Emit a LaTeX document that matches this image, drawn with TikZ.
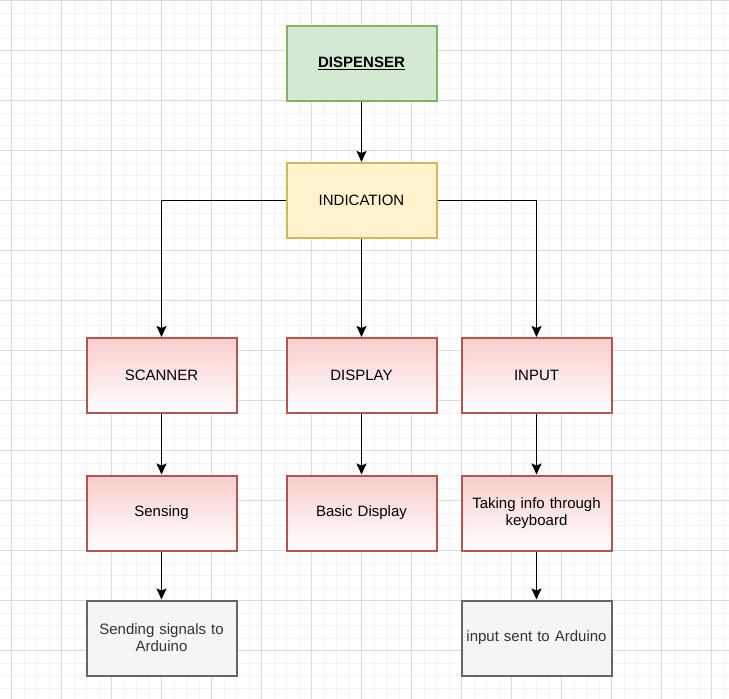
\documentclass[tikz,border=0pt]{standalone}
\usepackage{fontspec}
\setmainfont{Liberation Sans}
\usetikzlibrary{arrows.meta}
\definecolor{gminor}{HTML}{F3F3F3}
\definecolor{gmajor}{HTML}{DADADA}
\definecolor{greenfill}{HTML}{D5E8D4}
\definecolor{greenline}{HTML}{82B366}
\definecolor{yelfill}{HTML}{FFF2CC}
\definecolor{yelline}{HTML}{D6B656}
\definecolor{redfill}{HTML}{F8CECC}
\definecolor{redline}{HTML}{B85450}
\definecolor{grayfill}{HTML}{F5F5F5}
\definecolor{grayline}{HTML}{666666}
\definecolor{graytext}{HTML}{333333}
\begin{document}
\begin{tikzpicture}[x=1pt,y=-1pt,
  box/.style={rectangle, minimum width=150pt, minimum height=75pt, line width=2pt, align=center, font=\fontsize{15}{17}\selectfont, inner sep=2pt, text width=146pt},
  greenbox/.style={box, draw=greenline, fill=greenfill},
  yelbox/.style={box, draw=yelline, fill=yelfill},
  redbox/.style={box, draw=redline, top color=redfill, bottom color=white},
  graybox/.style={box, draw=grayline, fill=grayfill, text=graytext},
  conn/.style={line width=1.5pt, -{Stealth[length=11pt,width=10pt,inset=2pt]}}
]
\fill[white] (0,0) rectangle (729,699);
\useasboundingbox (0,0) rectangle (729,699);
\foreach \i in {0,...,59} {
  \pgfmathsetmacro{\xx}{-1+12.5*\i}
  \draw[gminor, line width=1pt] (\xx,0) -- (\xx,699);
  \pgfmathsetmacro{\yy}{0.5+12.5*\i}
  \draw[gminor, line width=1pt] (0,\yy) -- (729,\yy);
}
\foreach \i in {0,...,15} {
  \pgfmathsetmacro{\xx}{11.5+50*\i}
  \draw[gmajor, line width=1pt] (\xx,0) -- (\xx,699);
  \pgfmathsetmacro{\yy}{0.5+50*\i}
  \draw[gmajor, line width=1pt] (0,\yy) -- (729,\yy);
}
\node[greenbox] (disp) at (361.5,63) {\underline{\textbf{DISPENSER}}};
\node[yelbox] (ind) at (361.5,200.5) {INDICATION};
\node[redbox] (scan) at (161.5,375.5) {SCANNER};
\node[redbox] (dsp) at (361.5,375.5) {DISPLAY};
\node[redbox] (inp) at (536.5,375.5) {INPUT};
\node[redbox] (sens) at (161.5,513) {Sensing};
\node[redbox] (basic) at (361.5,513) {Basic Display};
\node[redbox] (take) at (536.5,513) {Taking info through\\keyboard};
\node[graybox] (send) at (161.5,638) {Sending signals to\\Arduino};
\node[graybox] (sent) at (536.5,638) {input sent to Arduino};
\draw[conn] (disp) -- (ind);
\draw[conn] (ind.west) -| (scan.north);
\draw[conn] (ind) -- (dsp);
\draw[conn] (ind.east) -| (inp.north);
\draw[conn] (scan) -- (sens);
\draw[conn] (dsp) -- (basic);
\draw[conn] (inp) -- (take);
\draw[conn] (sens) -- (send);
\draw[conn] (take) -- (sent);
\end{tikzpicture}
\end{document}
